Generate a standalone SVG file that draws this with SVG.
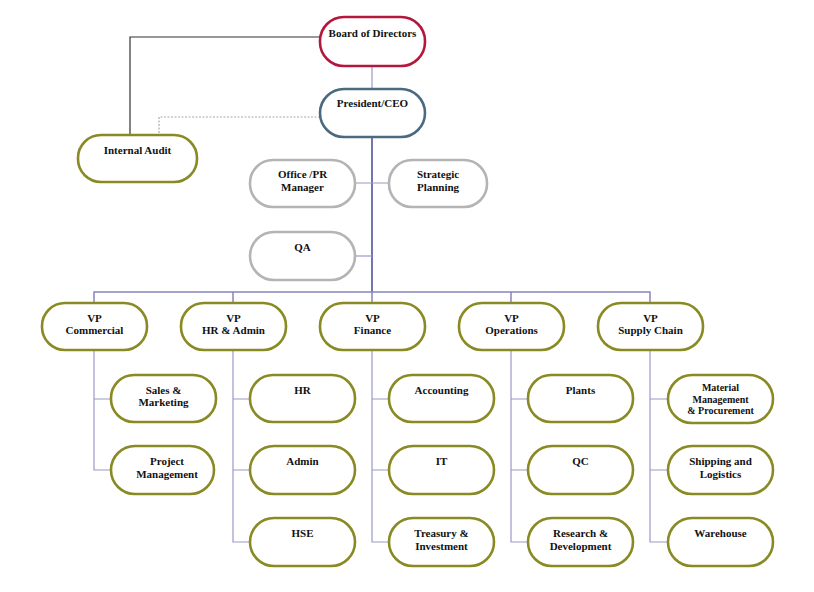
<svg xmlns="http://www.w3.org/2000/svg" width="814" height="592" viewBox="0 0 814 592">
<style>
text{font-family:"Liberation Serif","Times New Roman",serif;font-weight:bold;font-size:11px;fill:#111;text-anchor:middle}
.sm{font-size:10px}
rect{fill:#fff;stroke-width:2.6}
.olive{stroke:#8a8a24}
.gray{stroke:#b4b4b4}
.red{stroke:#b3183c}
.blue{stroke:#4b6a80}
.c{fill:none;stroke:#9a9ac8;stroke-width:1.2}
.trunk{fill:none;stroke:#7474b0;stroke-width:2}
.bus{fill:none;stroke:#8585bc;stroke-width:1.5}
</style>
<rect x="0" y="0" width="814" height="592" style="fill:#fff;stroke:none"/>
<g id="connectors">
<path d="M320 37 H130 V135" fill="none" stroke="#333" stroke-width="1.2"/>
<path d="M320 117 H159 V135" fill="none" stroke="#aaa" stroke-width="1.2" stroke-dasharray="2,1.5"/>
<path class="c" d="M372 66 V89"/>
<path class="trunk" d="M372 137 V292"/>
<path class="c" d="M355 183 H389"/>
<path class="c" d="M355 256 H372"/>
<path class="bus" d="M94 303 V292 H650 V303 M233 292 V303 M372 292 V303 M511 292 V303"/>
<path class="c" d="M94 350 V470 H111 M94 399 H111"/>
<path class="c" d="M233 350 V542 H250 M233 399 H250 M233 470 H250"/>
<path class="c" d="M372 350 V542 H389 M372 399 H389 M372 470 H389"/>
<path class="c" d="M511 350 V542 H528 M511 399 H528 M511 470 H528"/>
<path class="c" d="M650 350 V542 H667 M650 399 H667 M650 470 H667"/>
</g>
<g id="board"><rect class="red" x="320" y="17" width="105" height="49" rx="24"/><text x="372.5" y="37">Board of Directors</text></g>
<g id="ceo"><rect class="blue" x="320" y="89" width="105" height="48" rx="24"/><text x="372.5" y="107">President/CEO</text></g>
<g id="audit"><rect class="olive" x="78" y="135" width="119" height="47" rx="23"/><text x="137.5" y="154">Internal Audit</text></g>
<g id="office"><rect class="gray" x="250" y="160" width="105" height="47" rx="23"/><text x="302.5" y="178">Office /PR</text><text x="302.5" y="191">Manager</text></g>
<g id="strategic"><rect class="gray" x="389" y="160" width="98" height="47" rx="23"/><text x="438" y="178">Strategic</text><text x="438" y="191">Planning</text></g>
<g id="qa"><rect class="gray" x="250" y="232" width="105" height="48" rx="24"/><text x="302.5" y="251">QA</text></g>
<g id="vp-commercial"><rect class="olive" x="42" y="303" width="105" height="47" rx="23"/><text x="94.5" y="322">VP</text><text x="94.5" y="334">Commercial</text></g>
<g id="vp-hr"><rect class="olive" x="181" y="303" width="105" height="47" rx="23"/><text x="233.5" y="322">VP</text><text x="233.5" y="334">HR &amp; Admin</text></g>
<g id="vp-finance"><rect class="olive" x="320" y="303" width="105" height="47" rx="23"/><text x="372.5" y="322">VP</text><text x="372.5" y="334">Finance</text></g>
<g id="vp-operations"><rect class="olive" x="459" y="303" width="105" height="47" rx="23"/><text x="511.5" y="322">VP</text><text x="511.5" y="334">Operations</text></g>
<g id="vp-supply"><rect class="olive" x="598" y="303" width="105" height="47" rx="23"/><text x="650.5" y="322">VP</text><text x="650.5" y="334">Supply Chain</text></g>
<g id="sales"><rect class="olive" x="111" y="375" width="105" height="47" rx="23"/><text x="163.5" y="394">Sales &amp;</text><text x="163.5" y="406">Marketing</text></g>
<g id="project"><rect class="olive" x="111" y="446" width="103" height="48" rx="24"/><text x="167" y="465">Project</text><text x="167" y="478">Management</text></g>
<g id="hr"><rect class="olive" x="250" y="375" width="105" height="47" rx="23"/><text x="302.5" y="394">HR</text></g>
<g id="admin"><rect class="olive" x="250" y="446" width="105" height="48" rx="24"/><text x="302.5" y="465">Admin</text></g>
<g id="hse"><rect class="olive" x="250" y="518" width="105" height="48" rx="24"/><text x="302.5" y="537">HSE</text></g>
<g id="accounting"><rect class="olive" x="389" y="375" width="105" height="47" rx="23"/><text x="441.5" y="394">Accounting</text></g>
<g id="it"><rect class="olive" x="389" y="446" width="105" height="48" rx="24"/><text x="441.5" y="465">IT</text></g>
<g id="treasury"><rect class="olive" x="389" y="518" width="105" height="48" rx="24"/><text x="441.5" y="537">Treasury &amp;</text><text x="441.5" y="550">Investment</text></g>
<g id="plants"><rect class="olive" x="528" y="375" width="105" height="47" rx="23"/><text x="580.5" y="394">Plants</text></g>
<g id="qc"><rect class="olive" x="528" y="446" width="105" height="48" rx="24"/><text x="580.5" y="465">QC</text></g>
<g id="rnd"><rect class="olive" x="528" y="518" width="105" height="48" rx="24"/><text x="580.5" y="537">Research &amp;</text><text x="580.5" y="550">Development</text></g>
<g id="material"><rect class="olive" x="668" y="375" width="105" height="48" rx="24"/><text class="sm" x="720.5" y="391">Material</text><text class="sm" x="720.5" y="403">Management</text><text class="sm" x="720.5" y="414">&amp; Procurement</text></g>
<g id="shipping"><rect class="olive" x="668" y="446" width="105" height="48" rx="24"/><text x="720.5" y="465">Shipping and</text><text x="720.5" y="478">Logistics</text></g>
<g id="warehouse"><rect class="olive" x="668" y="518" width="105" height="48" rx="24"/><text x="720.5" y="537">Warehouse</text></g>
</svg>
